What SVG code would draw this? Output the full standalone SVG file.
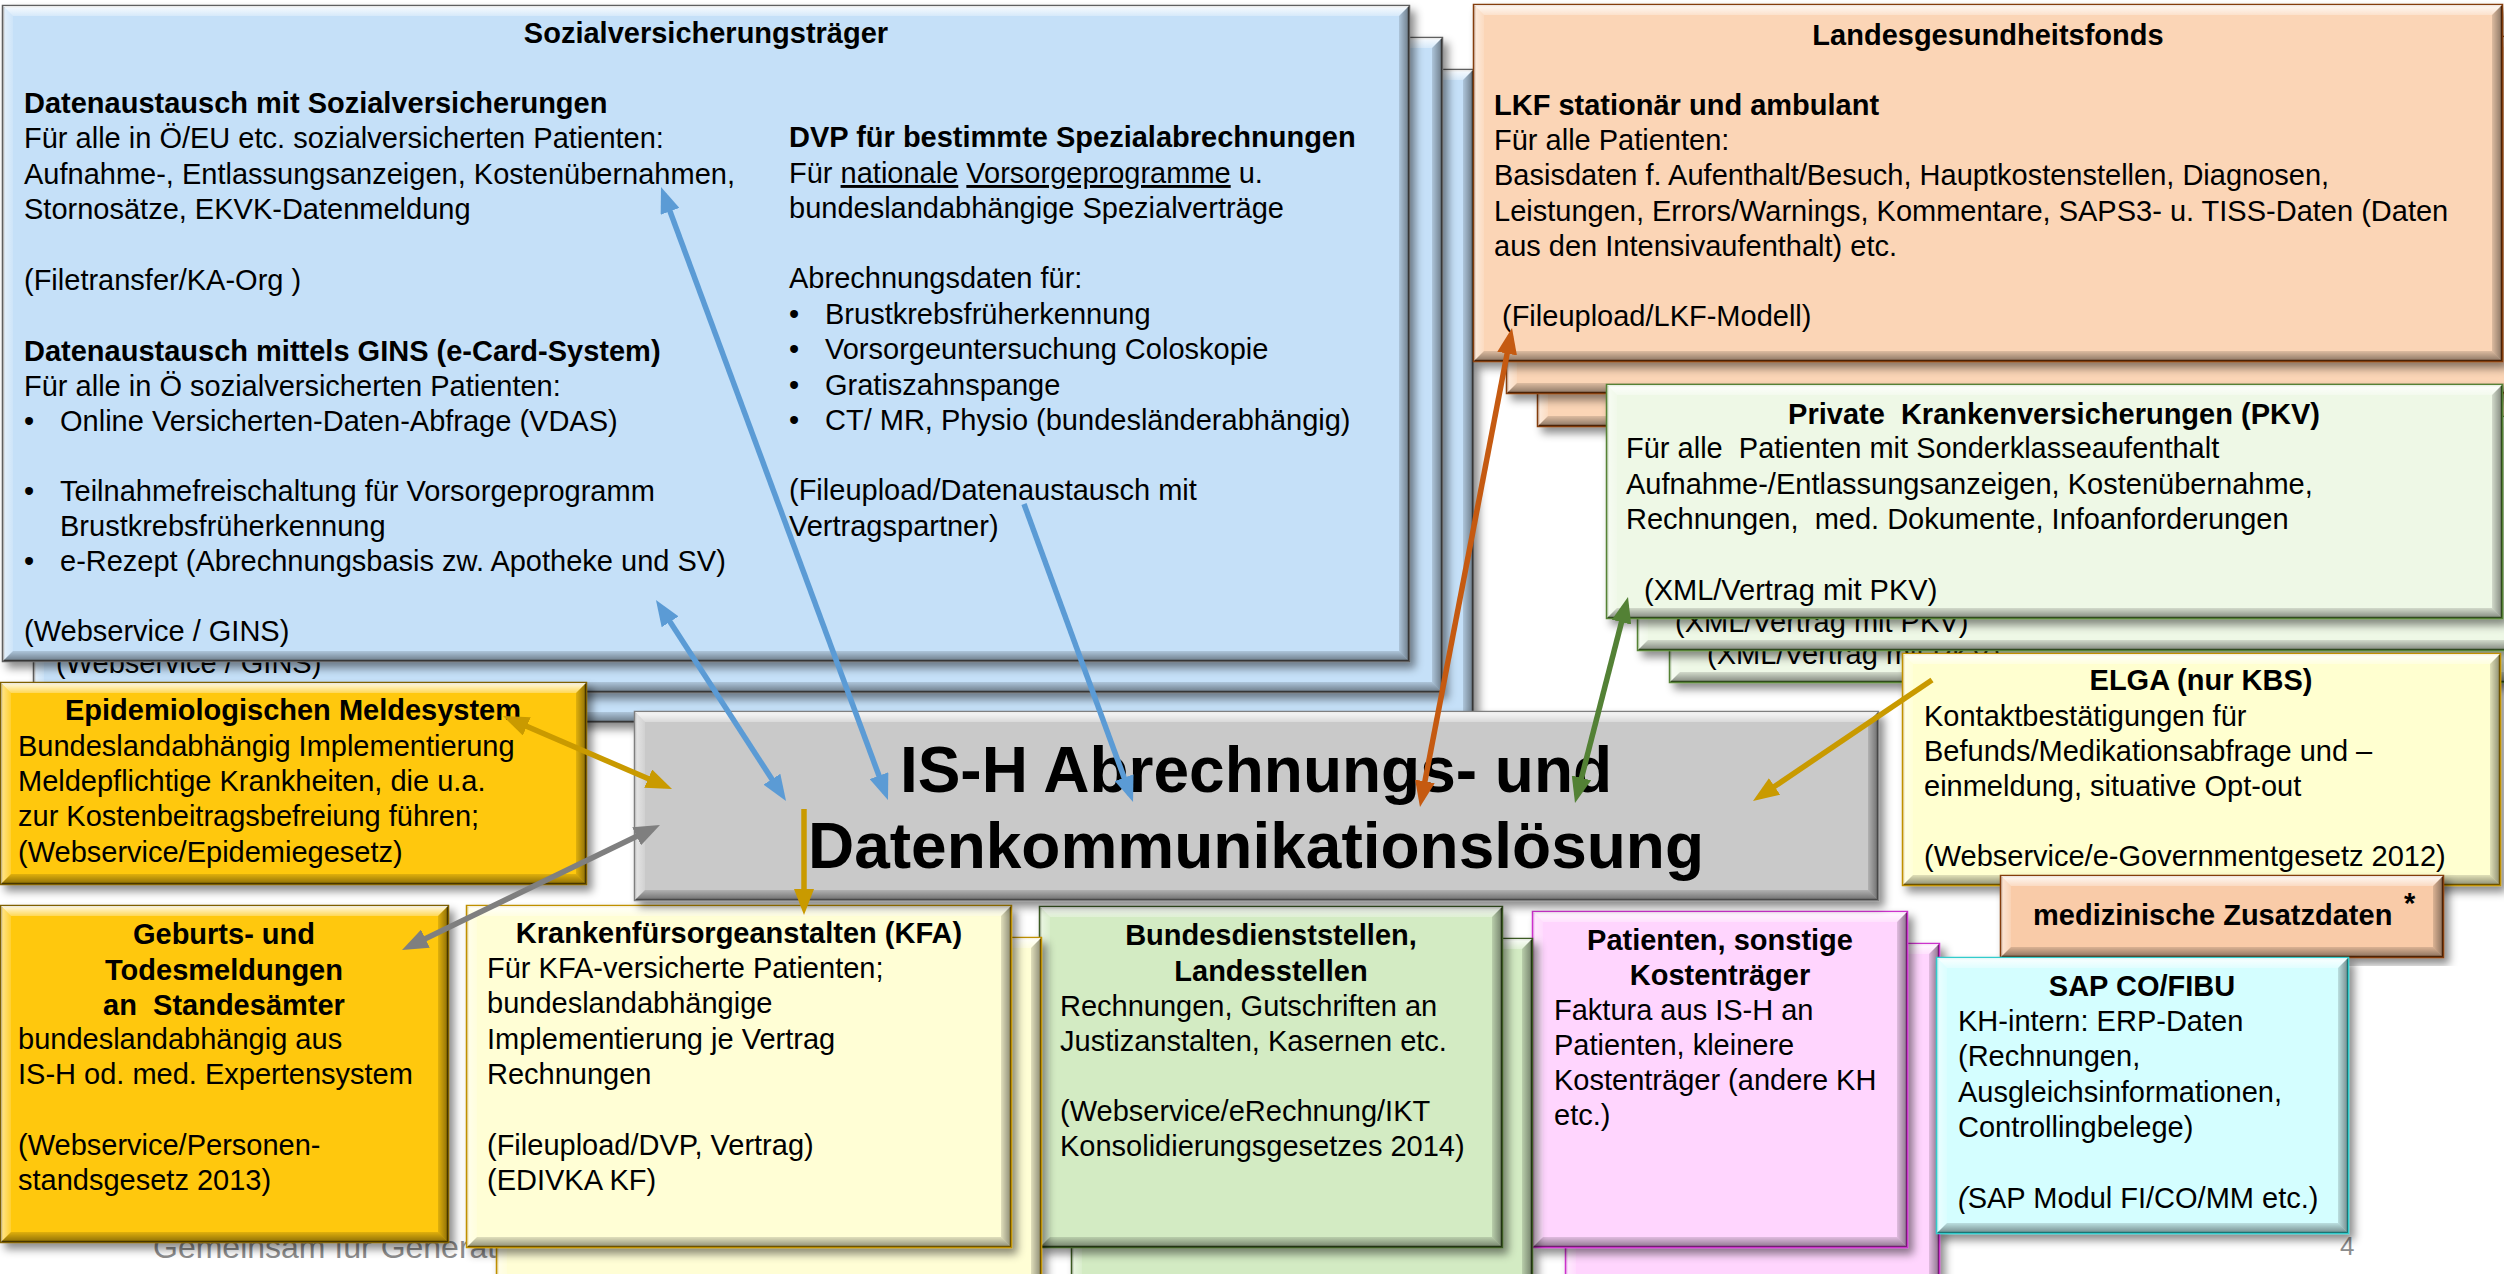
<svg xmlns="http://www.w3.org/2000/svg" width="2504" height="1274" viewBox="0 0 2504 1274">
<defs>
<style>
.t{font-family:"Liberation Sans",Arial,sans-serif;font-size:29px;fill:#000;white-space:pre}
.b{font-weight:bold}
.c{text-anchor:middle}
.big{font-size:64px;font-weight:bold;text-anchor:middle}
.box{stroke-width:2.5;filter:url(#sh)}
.sv{fill:#C5E0F8;stroke:#5f5f5f}
.lgf{fill:#FBD5B6;stroke:#843C0C}
.pkv{fill:#EEF8E6;stroke:#548235}
.elga{fill:#FFFFD0;stroke:#BF9000}
.zus{fill:#F9CBA8;stroke:#843C0C}
.sap{fill:#D4FEFF;stroke:#33CCCC}
.pink{fill:#FFD5FE;stroke:#CC33CC}
.grn{fill:#D3EBC3;stroke:#3A5A22}
.kfa{fill:#FFFED5;stroke:#BF9000}
.gold{fill:#FFC808;stroke:#7F6000}
.ish{fill:#C9C9C9;stroke:#7F7F7F}
.bt{fill:url(#gT)}
.bl{fill:url(#gL)}
.bb{fill:url(#gB)}
.br{fill:url(#gR)}
.ln{fill:none;stroke-width:5.5}
.foot{font-family:"Liberation Sans",Arial,sans-serif;fill:#8c8c8c}
</style>
<filter id="sh" x="-5%" y="-5%" width="115%" height="115%">
<feDropShadow dx="5" dy="6" stdDeviation="4" flood-color="#000" flood-opacity="0.45"/>
</filter>
<linearGradient id="gT" x1="0" y1="0" x2="0" y2="1"><stop offset="0" stop-color="#fff" stop-opacity="0.9"/><stop offset="1" stop-color="#fff" stop-opacity="0.3"/></linearGradient>
<linearGradient id="gL" x1="0" y1="0" x2="1" y2="0"><stop offset="0" stop-color="#fff" stop-opacity="0.55"/><stop offset="1" stop-color="#fff" stop-opacity="0.15"/></linearGradient>
<linearGradient id="gB" x1="0" y1="0" x2="0" y2="1"><stop offset="0" stop-color="#000" stop-opacity="0.12"/><stop offset="1" stop-color="#000" stop-opacity="0.45"/></linearGradient>
<linearGradient id="gR" x1="0" y1="0" x2="1" y2="0"><stop offset="0" stop-color="#000" stop-opacity="0.12"/><stop offset="1" stop-color="#000" stop-opacity="0.45"/></linearGradient>
<marker id="mBlue" viewBox="0 0 26 20" refX="18" refY="10" markerWidth="26" markerHeight="20" markerUnits="userSpaceOnUse" orient="auto-start-reverse"><path d="M0,0 L26,10 L0,20 z" fill="#5B9BD5"/></marker>
<marker id="mOrange" viewBox="0 0 26 20" refX="18" refY="10" markerWidth="26" markerHeight="20" markerUnits="userSpaceOnUse" orient="auto-start-reverse"><path d="M0,0 L26,10 L0,20 z" fill="#C55A11"/></marker>
<marker id="mGreen" viewBox="0 0 26 20" refX="18" refY="10" markerWidth="26" markerHeight="20" markerUnits="userSpaceOnUse" orient="auto-start-reverse"><path d="M0,0 L26,10 L0,20 z" fill="#538135"/></marker>
<marker id="mGold" viewBox="0 0 26 20" refX="18" refY="10" markerWidth="26" markerHeight="20" markerUnits="userSpaceOnUse" orient="auto-start-reverse"><path d="M0,0 L26,10 L0,20 z" fill="#C99A00"/></marker>
<marker id="mGray" viewBox="0 0 26 20" refX="18" refY="10" markerWidth="26" markerHeight="20" markerUnits="userSpaceOnUse" orient="auto-start-reverse"><path d="M0,0 L26,10 L0,20 z" fill="#7F7F7F"/></marker>
</defs>
<rect width="2504" height="1274" fill="#fff"/>

<text class="foot" x="153" y="1258" font-size="32">Gemeinsam für Generat</text>
<text class="foot" x="2340" y="1255" font-size="26">4</text>

<!-- Sozialversicherungsträger stack -->
<g id="sv3">
<rect class="box sv" x="65" y="70" width="1408" height="652"/>
<polygon class="bt" points="65,70 1473,70 1463,80 75,80"/><polygon class="bl" points="65,70 75,80 75,712 65,722"/><polygon class="bb" points="65,722 75,712 1463,712 1473,722"/><polygon class="br" points="1473,70 1473,722 1463,712 1463,80"/>
</g>
<g id="sv2">
<rect class="box sv" x="34" y="38" width="1408" height="654"/>
<polygon class="bt" points="34,38 1442,38 1432,48 44,48"/><polygon class="bl" points="34,38 44,48 44,682 34,692"/><polygon class="bb" points="34,692 44,682 1432,682 1442,692"/><polygon class="br" points="1442,38 1442,692 1432,682 1432,48"/>
<text class="t" x="56" y="673">(Webservice / GINS)</text>
</g>
<g id="sozialversicherungstraeger">
<rect class="box sv" x="3" y="6" width="1406" height="655"/>
<polygon class="bt" points="3,6 1409,6 1399,16 13,16"/><polygon class="bl" points="3,6 13,16 13,651 3,661"/><polygon class="bb" points="3,661 13,651 1399,651 1409,661"/><polygon class="br" points="1409,6 1409,661 1399,651 1399,16"/>
<text class="t b c" x="706" y="43">Sozialversicherungsträger</text>
<text class="t b" x="24" y="113">Datenaustausch mit Sozialversicherungen</text>
<text class="t" x="24" y="148">Für alle in Ö/EU etc. sozialversicherten Patienten:</text>
<text class="t" x="24" y="184">Aufnahme-, Entlassungsanzeigen, Kostenübernahmen,</text>
<text class="t" x="24" y="219">Stornosätze, EKVK-Datenmeldung</text>
<text class="t" x="24" y="290">(Filetransfer/KA-Org )</text>
<text class="t b" x="24" y="361">Datenaustausch mittels GINS (e-Card-System)</text>
<text class="t" x="24" y="396">Für alle in Ö sozialversicherten Patienten:</text>
<text class="t" x="24" y="431">•</text><text class="t" x="60" y="431">Online Versicherten-Daten-Abfrage (VDAS)</text>
<text class="t" x="24" y="501">•</text><text class="t" x="60" y="501">Teilnahmefreischaltung für Vorsorgeprogramm</text>
<text class="t" x="60" y="536">Brustkrebsfrüherkennung</text>
<text class="t" x="24" y="571">•</text><text class="t" x="60" y="571">e-Rezept (Abrechnungsbasis zw. Apotheke und SV)</text>
<text class="t" x="24" y="641">(Webservice / GINS)</text>
<text class="t b" x="789" y="147">DVP für bestimmte Spezialabrechnungen</text>
<text class="t" x="789" y="183">Für <tspan text-decoration="underline">nationale</tspan> <tspan text-decoration="underline">Vorsorgeprogramme</tspan> u.</text>
<text class="t" x="789" y="218">bundeslandabhängige Spezialverträge</text>
<text class="t" x="789" y="288">Abrechnungsdaten für:</text>
<text class="t" x="789" y="324">•</text><text class="t" x="825" y="324">Brustkrebsfrüherkennung</text>
<text class="t" x="789" y="359">•</text><text class="t" x="825" y="359">Vorsorgeuntersuchung Coloskopie</text>
<text class="t" x="789" y="395">•</text><text class="t" x="825" y="395">Gratiszahnspange</text>
<text class="t" x="789" y="430">•</text><text class="t" x="825" y="430">CT/ MR, Physio (bundesländerabhängig)</text>
<text class="t" x="789" y="500">(Fileupload/Datenaustausch mit</text>
<text class="t" x="789" y="536">Vertragspartner)</text>
</g>

<!-- Landesgesundheitsfonds stack -->
<g id="lgf3">
<rect class="box lgf" x="1538" y="69" width="1028" height="357"/>
<polygon class="bt" points="1538,69 2566,69 2556,79 1548,79"/><polygon class="bl" points="1538,69 1548,79 1548,416 1538,426"/><polygon class="bb" points="1538,426 1548,416 2556,416 2566,426"/>
</g>
<g id="lgf2">
<rect class="box lgf" x="1507" y="37" width="1028" height="356"/>
<polygon class="bt" points="1507,37 2535,37 2525,47 1517,47"/><polygon class="bl" points="1507,37 1517,47 1517,383 1507,393"/><polygon class="bb" points="1507,393 1517,383 2525,383 2535,393"/>
</g>
<g id="landesgesundheitsfonds">
<rect class="box lgf" x="1474" y="5" width="1028" height="356"/>
<polygon class="bt" points="1474,5 2502,5 2492,15 1484,15"/><polygon class="bl" points="1474,5 1484,15 1484,351 1474,361"/><polygon class="bb" points="1474,361 1484,351 2492,351 2502,361"/><polygon class="br" points="2502,5 2502,361 2492,351 2492,15"/>
<text class="t b c" x="1988" y="45">Landesgesundheitsfonds</text>
<text class="t b" x="1494" y="115">LKF stationär und ambulant</text>
<text class="t" x="1494" y="150">Für alle Patienten:</text>
<text class="t" x="1494" y="185">Basisdaten f. Aufenthalt/Besuch, Hauptkostenstellen, Diagnosen,</text>
<text class="t" x="1494" y="221">Leistungen, Errors/Warnings, Kommentare, SAPS3- u. TISS-Daten (Daten</text>
<text class="t" x="1494" y="256">aus den Intensivaufenthalt) etc.</text>
<text class="t" x="1502" y="326">(Fileupload/LKF-Modell)</text>
</g>

<!-- PKV stack -->
<g id="pkv3">
<rect class="box pkv" x="1670" y="449" width="896" height="233"/>
<polygon class="bt" points="1670,449 2566,449 2556,459 1680,459"/><polygon class="bl" points="1670,449 1680,459 1680,672 1670,682"/><polygon class="bb" points="1670,682 1680,672 2556,672 2566,682"/>
<text class="t" x="1707" y="664">(XML/Vertrag mit PKV)</text>
</g>
<g id="pkv2">
<rect class="box pkv" x="1638" y="417" width="896" height="233"/>
<polygon class="bt" points="1638,417 2534,417 2524,427 1648,427"/><polygon class="bl" points="1638,417 1648,427 1648,640 1638,650"/><polygon class="bb" points="1638,650 1648,640 2524,640 2534,650"/>
<text class="t" x="1675" y="632">(XML/Vertrag mit PKV)</text>
</g>
<g id="private-krankenversicherungen">
<rect class="box pkv" x="1607" y="385" width="895" height="233"/>
<polygon class="bt" points="1607,385 2502,385 2492,395 1617,395"/><polygon class="bl" points="1607,385 1617,395 1617,608 1607,618"/><polygon class="bb" points="1607,618 1617,608 2492,608 2502,618"/><polygon class="br" points="2502,385 2502,618 2492,608 2492,395"/>
<text class="t b c" x="2054" y="424">Private  Krankenversicherungen (PKV)</text>
<text class="t" x="1626" y="458">Für alle  Patienten mit Sonderklasseaufenthalt</text>
<text class="t" x="1626" y="494">Aufnahme-/Entlassungsanzeigen, Kostenübernahme,</text>
<text class="t" x="1626" y="529">Rechnungen,  med. Dokumente, Infoanforderungen</text>
<text class="t" x="1644" y="600">(XML/Vertrag mit PKV)</text>
</g>

<g id="elga">
<rect class="box elga" x="1903" y="654" width="597" height="231"/>
<polygon class="bt" points="1903,654 2500,654 2490,664 1913,664"/><polygon class="bl" points="1903,654 1913,664 1913,875 1903,885"/><polygon class="bb" points="1903,885 1913,875 2490,875 2500,885"/><polygon class="br" points="2500,654 2500,885 2490,875 2490,664"/>
<text class="t b c" x="2201" y="690">ELGA (nur KBS)</text>
<text class="t" x="1924" y="726">Kontaktbestätigungen für</text>
<text class="t" x="1924" y="761">Befunds/Medikationsabfrage und –</text>
<text class="t" x="1924" y="796">einmeldung, situative Opt-out</text>
<text class="t" x="1924" y="866">(Webservice/e-Governmentgesetz 2012)</text>
</g>

<g id="medizinische-zusatzdaten">
<rect class="box zus" x="2001" y="876" width="442" height="81"/>
<polygon class="bt" points="2001,876 2443,876 2433,886 2011,886"/><polygon class="bl" points="2001,876 2011,886 2011,947 2001,957"/><polygon class="bb" points="2001,957 2011,947 2433,947 2443,957"/><polygon class="br" points="2443,876 2443,957 2433,947 2433,886"/>
<text class="t b" x="2033" y="925">medizinische Zusatzdaten</text>
<text class="t b" x="2404" y="913" font-size="36">*</text>
</g>

<!-- Patienten stack -->
<g id="pink2">
<rect class="box pink" x="1566" y="944" width="373" height="346"/>
<polygon class="bt" points="1566,944 1939,944 1929,954 1576,954"/><polygon class="bl" points="1566,944 1576,954 1576,1280 1566,1290"/><polygon class="br" points="1939,944 1939,1290 1929,1280 1929,954"/>
</g>
<g id="patienten-sonstige-kostentraeger">
<rect class="box pink" x="1533" y="912" width="374" height="335"/>
<polygon class="bt" points="1533,912 1907,912 1897,922 1543,922"/><polygon class="bl" points="1533,912 1543,922 1543,1237 1533,1247"/><polygon class="bb" points="1533,1247 1543,1237 1897,1237 1907,1247"/><polygon class="br" points="1907,912 1907,1247 1897,1237 1897,922"/>
<text class="t b c" x="1720" y="950">Patienten, sonstige</text>
<text class="t b c" x="1720" y="985">Kostenträger</text>
<text class="t" x="1554" y="1020">Faktura aus IS-H an</text>
<text class="t" x="1554" y="1055">Patienten, kleinere</text>
<text class="t" x="1554" y="1090">Kostenträger (andere KH</text>
<text class="t" x="1554" y="1125">etc.)</text>
</g>

<g id="sap-co-fibu">
<rect class="box sap" x="1937" y="958" width="411" height="275"/>
<polygon class="bt" points="1937,958 2348,958 2338,968 1947,968"/><polygon class="bl" points="1937,958 1947,968 1947,1223 1937,1233"/><polygon class="bb" points="1937,1233 1947,1223 2338,1223 2348,1233"/><polygon class="br" points="2348,958 2348,1233 2338,1223 2338,968"/>
<text class="t b c" x="2142" y="996">SAP CO/FIBU</text>
<text class="t" x="1958" y="1031">KH-intern: ERP-Daten</text>
<text class="t" x="1958" y="1066">(Rechnungen,</text>
<text class="t" x="1958" y="1102">Ausgleichsinformationen,</text>
<text class="t" x="1958" y="1137">Controllingbelege)</text>
<text class="t" x="1958" y="1208"><tspan font-style="italic">(</tspan>SAP Modul FI/CO/MM etc.)</text>
</g>

<!-- Bundesdienststellen stack -->
<g id="grn2">
<rect class="box grn" x="1072" y="939" width="460" height="351"/>
<polygon class="bt" points="1072,939 1532,939 1522,949 1082,949"/><polygon class="bl" points="1072,939 1082,949 1082,1280 1072,1290"/><polygon class="br" points="1532,939 1532,1290 1522,1280 1522,949"/>
</g>
<g id="bundesdienststellen">
<rect class="box grn" x="1040" y="907" width="462" height="340"/>
<polygon class="bt" points="1040,907 1502,907 1492,917 1050,917"/><polygon class="bl" points="1040,907 1050,917 1050,1237 1040,1247"/><polygon class="bb" points="1040,1247 1050,1237 1492,1237 1502,1247"/><polygon class="br" points="1502,907 1502,1247 1492,1237 1492,917"/>
<text class="t b c" x="1271" y="945">Bundesdienststellen,</text>
<text class="t b c" x="1271" y="981">Landesstellen</text>
<text class="t" x="1060" y="1016">Rechnungen, Gutschriften an</text>
<text class="t" x="1060" y="1051">Justizanstalten, Kasernen etc.</text>
<text class="t" x="1060" y="1121">(Webservice/eRechnung/IKT</text>
<text class="t" x="1060" y="1156">Konsolidierungsgesetzes 2014)</text>
</g>

<!-- KFA stack -->
<g id="kfa2">
<rect class="box kfa" x="497" y="938" width="544" height="352"/>
<polygon class="bt" points="497,938 1041,938 1031,948 507,948"/><polygon class="bl" points="497,938 507,948 507,1280 497,1290"/><polygon class="br" points="1041,938 1041,1290 1031,1280 1031,948"/>
</g>
<g id="krankenfuersorgeanstalten">
<rect class="box kfa" x="467" y="906" width="544" height="341"/>
<polygon class="bt" points="467,906 1011,906 1001,916 477,916"/><polygon class="bl" points="467,906 477,916 477,1237 467,1247"/><polygon class="bb" points="467,1247 477,1237 1001,1237 1011,1247"/><polygon class="br" points="1011,906 1011,1247 1001,1237 1001,916"/>
<text class="t b c" x="739" y="943">Krankenfürsorgeanstalten (KFA)</text>
<text class="t" x="487" y="978">Für KFA-versicherte Patienten;</text>
<text class="t" x="487" y="1013">bundeslandabhängige</text>
<text class="t" x="487" y="1049">Implementierung je Vertrag</text>
<text class="t" x="487" y="1084">Rechnungen</text>
<text class="t" x="487" y="1155">(Fileupload/DVP, Vertrag)</text>
<text class="t" x="487" y="1190">(EDIVKA KF)</text>
</g>

<g id="geburts-todesmeldungen">
<rect class="box gold" x="1" y="906" width="447" height="336"/>
<polygon class="bt" points="1,906 448,906 438,916 11,916"/><polygon class="bl" points="1,906 11,916 11,1232 1,1242"/><polygon class="bb" points="1,1242 11,1232 438,1232 448,1242"/><polygon class="br" points="448,906 448,1242 438,1232 438,916"/>
<text class="t b c" x="224" y="944">Geburts- und</text>
<text class="t b c" x="224" y="980">Todesmeldungen</text>
<text class="t b c" x="224" y="1015">an  Standesämter</text>
<text class="t" x="18" y="1049">bundeslandabhängig aus</text>
<text class="t" x="18" y="1084">IS-H od. med. Expertensystem</text>
<text class="t" x="18" y="1155">(Webservice/Personen-</text>
<text class="t" x="18" y="1190">standsgesetz 2013)</text>
</g>

<g id="epidemiologisches-meldesystem">
<rect class="box gold" x="1" y="683" width="585" height="201"/>
<polygon class="bt" points="1,683 586,683 576,693 11,693"/><polygon class="bl" points="1,683 11,693 11,874 1,884"/><polygon class="bb" points="1,884 11,874 576,874 586,884"/><polygon class="br" points="586,683 586,884 576,874 576,693"/>
<text class="t b c" x="293" y="720">Epidemiologischen Meldesystem</text>
<text class="t" x="18" y="756">Bundeslandabhängig Implementierung</text>
<text class="t" x="18" y="791">Meldepflichtige Krankheiten, die u.a.</text>
<text class="t" x="18" y="826">zur Kostenbeitragsbefreiung führen;</text>
<text class="t" x="18" y="862">(Webservice/Epidemiegesetz)</text>
</g>

<g id="is-h">
<rect class="box ish" x="635" y="712" width="1243" height="188"/>
<polygon class="bt" points="635,712 1878,712 1868,722 645,722"/><polygon class="bl" points="635,712 645,722 645,890 635,900"/><polygon class="bb" points="635,900 645,890 1868,890 1878,900"/><polygon class="br" points="1878,712 1878,900 1868,890 1868,722"/>
<text class="t big" x="1256" y="792">IS-H Abrechnungs- und</text>
<text class="t big" x="1256" y="868">Datenkommunikationslösung</text>
</g>

<!-- Connectors -->
<g id="connectors">
<line class="ln" stroke="#5B9BD5" x1="663.8" y1="194.5" x2="885.2" y2="792.5" marker-start="url(#mBlue)" marker-end="url(#mBlue)"/>
<line class="ln" stroke="#5B9BD5" x1="660.3" y1="606.7" x2="781.7" y2="794.3" marker-start="url(#mBlue)" marker-end="url(#mBlue)"/>
<line class="ln" stroke="#5B9BD5" x1="1024" y1="504" x2="1130.3" y2="794.5" marker-end="url(#mBlue)"/>
<line class="ln" stroke="#C55A11" x1="1510.5" y1="335.9" x2="1421.5" y2="799.1" marker-start="url(#mOrange)" marker-end="url(#mOrange)"/>
<line class="ln" stroke="#538135" x1="1626" y1="604.7" x2="1577" y2="795.3" marker-start="url(#mGreen)" marker-end="url(#mGreen)"/>
<line class="ln" stroke="#C99A00" x1="1932" y1="680" x2="1759.6" y2="796.5" marker-end="url(#mGold)"/>
<line class="ln" stroke="#C99A00" x1="510.3" y1="719.2" x2="664.7" y2="785.8" marker-start="url(#mGold)" marker-end="url(#mGold)"/>
<line class="ln" stroke="#7F7F7F" x1="409.2" y1="946.5" x2="652.8" y2="828.5" marker-start="url(#mGray)" marker-end="url(#mGray)"/>
<line class="ln" stroke="#C99A00" x1="804" y1="809" x2="804" y2="907" marker-end="url(#mGold)"/>
</g>
</svg>
